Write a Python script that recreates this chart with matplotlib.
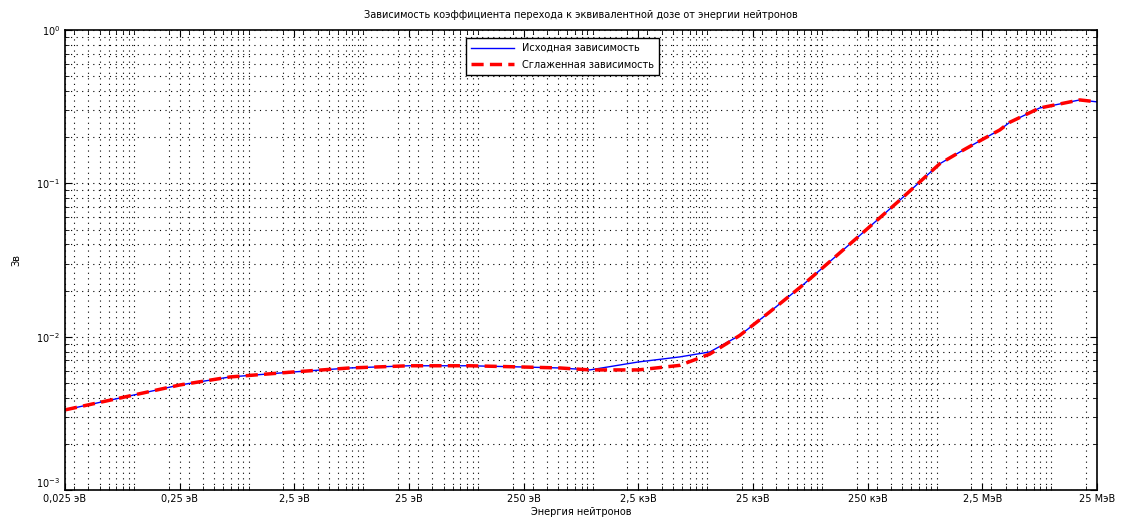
import numpy as np
import matplotlib.pyplot as plt
from matplotlib.ticker import FixedLocator, LogLocator, NullFormatter

# energy points (eV) and values
energy = [0.025, 0.0754, 0.25, 0.686, 2.48, 7.6, 25, 85, 250, 518, 944,
          2500, 5750, 10500, 19200, 35000, 64000, 1.17e5, 2.13e5, 4.76e5,
          1.06e6, 1.59e6, 2.46e6, 3.55e6, 4.33e6, 7.9e6, 1.77e7, 2.5e7]
source = [0.00333, 0.00398, 0.00484, 0.00546, 0.00589, 0.00625, 0.00646,
          0.00646, 0.00634, 0.00625, 0.00607, 0.00684, 0.00738, 0.00795,
          0.0102, 0.0145, 0.0209, 0.0309, 0.0457, 0.0776, 0.134, 0.160,
          0.192, 0.223, 0.25, 0.31, 0.35, 0.34]
smooth = [0.00333, 0.00398, 0.00484, 0.00546, 0.00589, 0.00625, 0.00646,
          0.00646, 0.00634, 0.00625, 0.00607, 0.00607, 0.0065, 0.0077,
          0.0102, 0.0145, 0.0209, 0.0309, 0.0457, 0.0776, 0.134, 0.160,
          0.192, 0.223, 0.25, 0.31, 0.35, 0.34]

xticks = [0.025, 0.25, 2.5, 25, 250, 2500, 25000, 250000, 2.5e6, 2.5e7]
xlabels = ['0,025 эВ', '0,25 эВ', '2,5 эВ', '25 эВ', '250 эВ', '2,5 кэВ',
           '25 кэВ', '250 кэВ', '2,5 МэВ', '25 МэВ']
yticks = [1e-3, 1e-2, 1e-1, 1e0]
ylabels = ['$10^{-3}$', '$10^{-2}$', '$10^{-1}$', '$10^{0}$']

fig = plt.figure(figsize=(11.25, 5.24), dpi=100)
ax = fig.add_axes([0.0578, 0.0649, 0.9173, 0.8778])

ax.plot(energy, source, '-', color='blue', lw=1.0, label='Исходная зависимость')
ax.plot(energy, smooth, '--', color='red', lw=2.5, dashes=(3.5, 1.8),
        label='Сглаженная зависимость')

ax.set_xscale('log')
ax.set_yscale('log')
ax.set_xlim(0.025, 2.5e7)
ax.set_ylim(1e-3, 1e0)

ax.xaxis.set_major_locator(FixedLocator(xticks))
ax.set_xticklabels(xlabels, fontsize=7)
ax.xaxis.set_minor_locator(LogLocator(base=10, subs=np.arange(1, 10)))
ax.xaxis.set_minor_formatter(NullFormatter())
ax.yaxis.set_major_locator(FixedLocator(yticks))
ax.set_yticklabels(ylabels, fontsize=7)
ax.yaxis.set_minor_locator(LogLocator(base=10, subs=np.arange(2, 10)))
ax.yaxis.set_minor_formatter(NullFormatter())
ax.tick_params(axis='both', which='both', direction='in', top=True, right=True,
               labelsize=7)
ax.tick_params(axis='both', which='major', length=5)
ax.tick_params(axis='both', which='minor', length=3)
ax.tick_params(axis='x', which='major', pad=3)

# lowest y label sits just above the corner so it clears the first x label
ax.get_yticklabels()[0].set_verticalalignment('bottom')

ax.grid(True, which='both', linestyle=(0, (1, 4)), color='black', linewidth=0.8)
for s in ax.spines.values():
    s.set_linewidth(1.2)

ax.set_title('Зависимость коэффициента перехода к эквивалентной дозе от энергии нейтронов',
             fontsize=7, pad=9)
ax.set_xlabel('Энергия нейтронов', fontsize=7, labelpad=2)
ax.set_ylabel('Зв', fontsize=7, labelpad=11)

leg = ax.legend(loc='upper center', bbox_to_anchor=(0.482, 0.993), fontsize=7,
                fancybox=False, edgecolor='black', framealpha=1,
                handlelength=4.5, labelspacing=0.7, borderpad=0.5)
leg.get_frame().set_linewidth(1.0)

fig.savefig('out.png', dpi=100)
